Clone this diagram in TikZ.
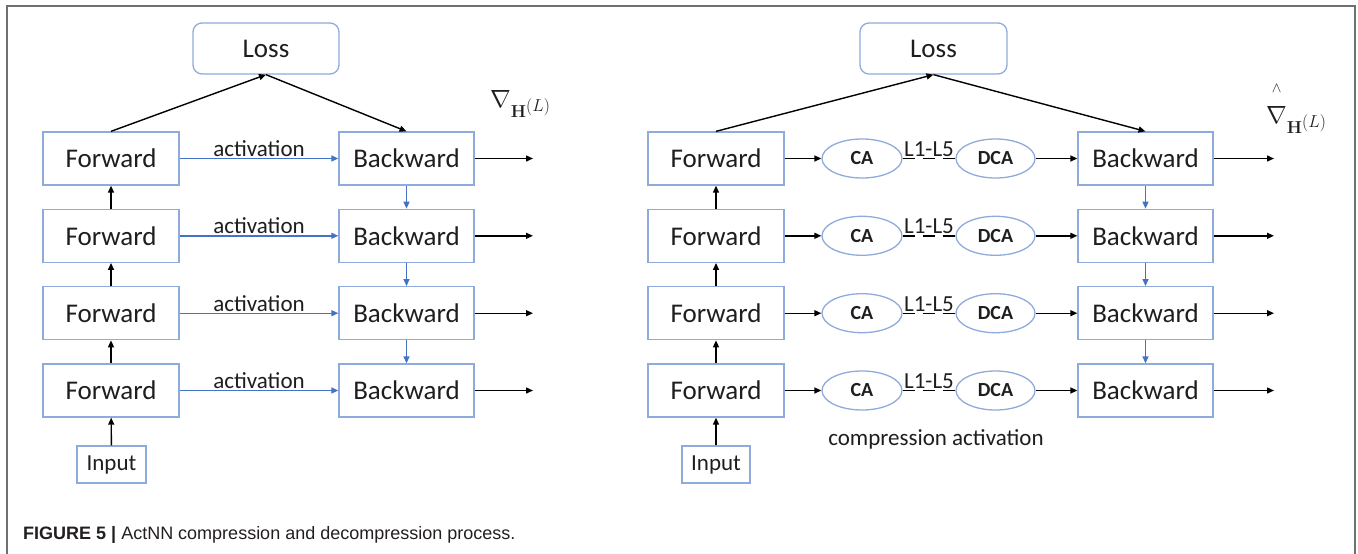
\documentclass[tikz,border=0pt]{standalone}
\usepackage{amsmath}
\usepackage[no-math]{fontspec}
\setmainfont{Carlito}
\newfontfamily\capfont{Liberation Sans}
\usetikzlibrary{arrows.meta,shapes.geometric}

\definecolor{boxblue}{HTML}{8FAADC}
\definecolor{arrblue}{HTML}{4472C4}
\definecolor{ink}{HTML}{1E1E1E}
\definecolor{framegray}{HTML}{707070}
\definecolor{capink}{HTML}{231F20}

\tikzset{
  block/.style={draw=boxblue, line width=1.3pt, rectangle, minimum width=136pt,
    minimum height=53pt, inner sep=0pt, text=ink, font=\fontsize{27}{30}\selectfont},
  lossbox/.style={block, rounded corners=9pt, minimum width=146pt, minimum height=51pt},
  inbox/.style={block, minimum width=69pt, minimum height=37pt, font=\fontsize{23}{26}\selectfont},
  oval/.style={draw=boxblue, line width=1.3pt, ellipse, minimum width=80pt, minimum height=39pt,
    inner sep=0pt, text=ink, font=\fontsize{20}{22}\selectfont\bfseries},
  flow/.style={draw=black, line width=1.4pt, -{Triangle[length=7pt,width=6pt]}},
  bflow/.style={draw=arrblue, line width=1.4pt, -{Triangle[length=7pt,width=6pt]}},
  link/.style={draw=black, line width=1.4pt, dash pattern=on 12pt off 8pt},
  tag/.style={text=ink, font=\fontsize{23}{26}\selectfont, inner sep=1pt},
  grad/.style={text=ink, inner sep=0pt, anchor=base west, font=\fontsize{27}{30}\selectfont},
}

\begin{document}
\begin{tikzpicture}[x=1pt, y=-1pt]
  \useasboundingbox (0,0) rectangle (1358,554);

  % figure frame (open at the bottom)
  \draw[framegray, line width=2pt] (7,554) -- (7,6) -- (1355,6) -- (1355,554);

  % ---------------- plain backpropagation ----------------
  \node[lossbox] (lossL) at (266,48.5) {Loss};
  \foreach \i/\y in {1/158.5, 2/235.8, 3/313.2, 4/390.5} {
    \node[block] (fL\i) at (111,\y) {Forward};
    \node[block, minimum width=135pt] (bL\i) at (406.5,\y) {Backward};
    \coordinate (oL\i) at (533,\y);
    \draw[bflow] (fL\i) -- node[tag, above] {activation} (bL\i);
    \draw[flow] (bL\i) -- (oL\i);
  }
  \node[inbox] (inL) at (111.5,464.5) {Input};
  \draw[flow] (inL) -- (fL4);
  \draw[flow] (fL4) -- (fL3);
  \draw[flow] (fL3) -- (fL2);
  \draw[flow] (fL2) -- (fL1);
  \draw[bflow] (bL1) -- (bL2);
  \draw[bflow] (bL2) -- (bL3);
  \draw[bflow] (bL3) -- (bL4);
  \draw[flow] (fL1.north) -- (lossL.south);
  \draw[flow] (lossL.south) -- (bL1.north);
  \node[grad] (gL) at (490,107) {$\nabla_{\mathbf{H}^{\scriptstyle(L)}}$};

  % ---------------- compressed activations ----------------
  \node[lossbox, minimum width=147pt] (lossR) at (933.5,48.5) {Loss};
  \foreach \i/\y in {1/158.5, 2/235.8, 3/313.2, 4/390.5} {
    \node[block] (fR\i) at (716,\y) {Forward};
    \node[oval] (ca\i) at (862,\y) {CA};
    \node[oval, minimum width=79pt] (dca\i) at (995.5,\y) {DCA};
    \node[block, minimum width=135pt] (bR\i) at (1145.5,\y) {Backward};
    \coordinate (oR\i) at (1274,\y);
    \draw[flow] (fR\i) -- (ca\i);
    \draw[link] (ca\i) -- node[tag, above] {L1-L5} (dca\i);
    \draw[flow] (dca\i) -- (bR\i);
    \draw[flow] (bR\i) -- (oR\i);
  }
  \node[inbox, minimum width=68pt] (inR) at (716,464.5) {Input};
  \draw[flow] (inR) -- (fR4);
  \draw[flow] (fR4) -- (fR3);
  \draw[flow] (fR3) -- (fR2);
  \draw[flow] (fR2) -- (fR1);
  \draw[bflow] (bR1) -- (bR2);
  \draw[bflow] (bR2) -- (bR3);
  \draw[bflow] (bR3) -- (bR4);
  \draw[flow] (fR1.north) -- (lossR.south);
  \draw[flow] (lossR.south) -- (bR1.north);
  \node[tag] (note) at (936,439) {compression activation};
  \node[grad] (gR) at (1266,123)
    {${\overset{\raisebox{9pt}{$\scriptscriptstyle\wedge$}}{\nabla}}_{\mathbf{H}^{\scriptstyle(L)}}$};

  % caption
  \node[anchor=base west, inner sep=0pt, text=capink] (cap) at (23,539)
    {\capfont\fontsize{18}{20}\selectfont\textbf{FIGURE 5 |} ActNN compression and decompression process.};
\end{tikzpicture}
\end{document}
